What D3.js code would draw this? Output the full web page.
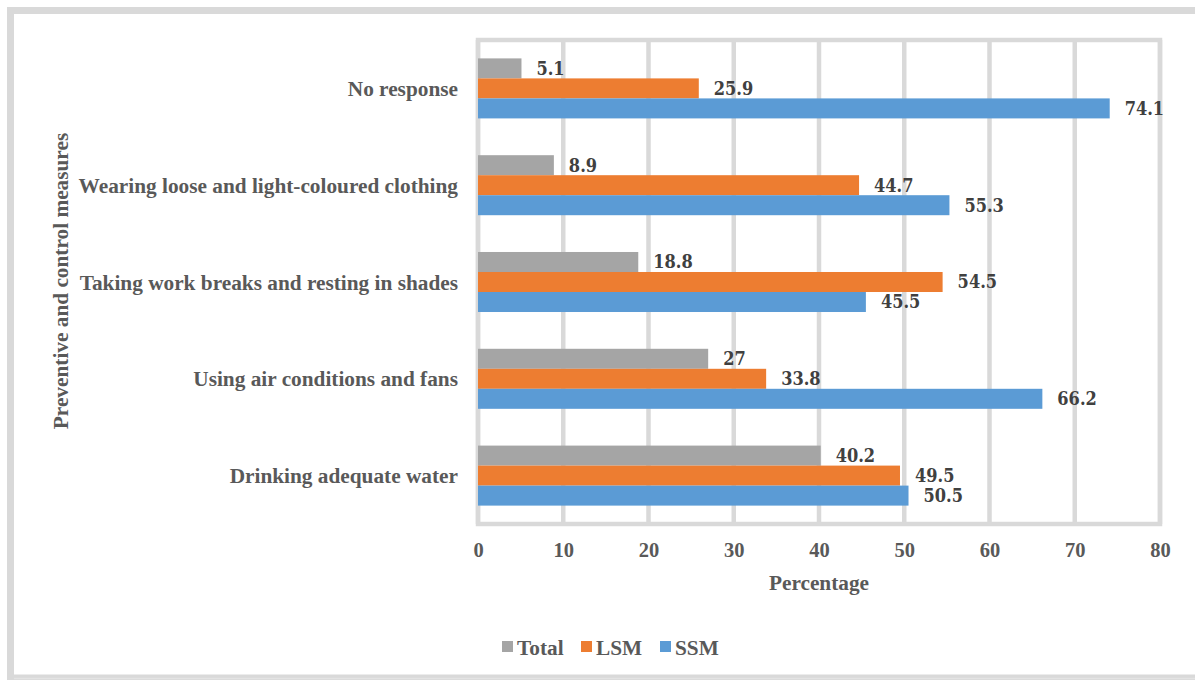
<!DOCTYPE html>
<html>
<head>
<meta charset="utf-8">
<script src="https://cdn.jsdelivr.net/npm/d3@7"></script>
<style>
  html, body { margin: 0; padding: 0; background: #ffffff; }
  svg { display: block; }
</style>
</head>
<body>
<svg id="chart" width="1195" height="680"></svg>
<script>
// Preventive and control measures, percentage of respondents by group
const categories = [
  "No response",
  "Wearing loose and light-coloured clothing",
  "Taking work breaks and resting in shades",
  "Using air conditions and fans",
  "Drinking adequate water"
];
const seriesNames = ["Total", "LSM", "SSM"];
const totalValues = [5.1, 8.9, 18.8, 27, 40.2];
const lsmValues   = [25.9, 44.7, 54.5, 33.8, 49.5];
const ssmValues   = [74.1, 55.3, 45.5, 66.2, 50.5];
const xTicks = [0, 10, 20, 30, 40, 50, 60, 70, 80];
const seriesColors = ["#a5a5a5", "#ed7d31", "#5b9bd5"];

const seriesValues = [totalValues, lsmValues, ssmValues];
const rows = categories.map((c, i) => ({
  category: c,
  values: seriesNames.map((s, j) => ({ series: s, value: seriesValues[j][i] }))
}));

const svg = d3.select("#chart");
const serif = "'Liberation Serif', 'Times New Roman', serif";
const labelGray = "#595959";
const gridGray = "#d9d9d9";

// outer chart frame
svg.append("rect")
  .attr("x", 10.5).attr("y", 10.5)
  .attr("width", 1195).attr("height", 667.5)
  .attr("fill", "#fff")
  .attr("stroke", gridGray).attr("stroke-width", 7);
svg.append("line")
  .attr("x1", 14).attr("x2", 1195).attr("y1", 678.5).attr("y2", 678.5)
  .attr("stroke", "#e3e3e3").attr("stroke-width", 1.5);

const plot = { left: 478, right: 1160, top: 40, bottom: 524 };

const x = d3.scaleLinear().domain([0, 80]).range([plot.left, plot.right]);
const y = d3.scaleBand().domain(categories).range([plot.top, plot.bottom])
  .paddingInner(0.38).paddingOuter(0.19);
const ySub = d3.scaleBand().domain(seriesNames).range([0, y.bandwidth()]);
const color = d3.scaleOrdinal().domain(seriesNames).range(seriesColors);

// grid lines
svg.append("g")
  .selectAll("line")
  .data(xTicks)
  .join("line")
  .attr("x1", d => x(d)).attr("x2", d => x(d))
  .attr("y1", plot.top).attr("y2", plot.bottom)
  .attr("stroke", gridGray).attr("stroke-width", 4.5);

// plot frame
svg.append("rect")
  .attr("x", plot.left).attr("y", plot.top)
  .attr("width", plot.right - plot.left).attr("height", plot.bottom - plot.top)
  .attr("fill", "none").attr("stroke", gridGray).attr("stroke-width", 4.5);

// bars
const groups = svg.append("g")
  .selectAll("g")
  .data(rows)
  .join("g")
  .attr("transform", d => `translate(0,${y(d.category)})`);

groups.selectAll("rect")
  .data(d => d.values)
  .join("rect")
  .attr("x", x(0))
  .attr("y", d => ySub(d.series))
  .attr("width", d => x(d.value) - x(0))
  .attr("height", ySub.bandwidth())
  .attr("fill", d => color(d.series));

// value labels
groups.selectAll("text")
  .data(d => d.values)
  .join("text")
  .attr("x", d => x(d.value) + 15)
  .attr("y", d => ySub(d.series) + ySub.bandwidth() / 2)
  .attr("dy", "0.36em")
  .attr("font-family", "'DejaVu Serif Condensed', 'DejaVu Serif', Cambria, serif")
  .attr("font-stretch", "condensed")
  .attr("font-weight", "bold")
  .attr("font-size", 18)
  .attr("fill", "#404040")
  .text(d => d.value);

// x axis
const xAxis = d3.axisBottom(x).tickValues(xTicks).tickSize(0).tickPadding(0);
const xg = svg.append("g")
  .attr("transform", `translate(0,${plot.bottom})`)
  .call(xAxis);
xg.select(".domain").remove();
xg.selectAll("text")
  .attr("y", 26)
  .attr("dy", "0.36em")
  .attr("font-family", serif)
  .attr("font-weight", "bold")
  .attr("font-size", 20.5)
  .attr("fill", labelGray);

// y axis (category labels)
const yAxis = d3.axisLeft(y).tickSize(0).tickPadding(0);
const yg = svg.append("g")
  .attr("transform", `translate(${plot.left - 20},0)`)
  .call(yAxis);
yg.select(".domain").remove();
yg.selectAll("text")
  .attr("dy", "0.36em")
  .attr("font-family", serif)
  .attr("font-weight", "bold")
  .attr("font-size", 21.3)
  .attr("fill", labelGray);

// axis titles
svg.append("text")
  .attr("x", (plot.left + plot.right) / 2)
  .attr("y", 582)
  .attr("dy", "0.36em")
  .attr("text-anchor", "middle")
  .attr("font-family", serif)
  .attr("font-weight", "bold")
  .attr("font-size", 21.3)
  .attr("fill", labelGray)
  .text("Percentage");

svg.append("text")
  .attr("transform", "translate(60,281) rotate(-90)")
  .attr("dy", "0.36em")
  .attr("text-anchor", "middle")
  .attr("font-family", serif)
  .attr("font-weight", "bold")
  .attr("font-size", 21.3)
  .attr("fill", labelGray)
  .text("Preventive and control measures");

// legend
const legendX = [502, 581, 660];
const legend = svg.append("g")
  .selectAll("g")
  .data(seriesNames)
  .join("g")
  .attr("transform", (d, i) => `translate(${legendX[i]},647)`);
legend.append("rect")
  .attr("x", 0).attr("y", -6)
  .attr("width", 11).attr("height", 11)
  .attr("fill", d => color(d));
legend.append("text")
  .attr("x", 15)
  .attr("y", 0)
  .attr("dy", "0.36em")
  .attr("font-family", serif)
  .attr("font-weight", "bold")
  .attr("font-size", 21.3)
  .attr("fill", labelGray)
  .text(d => d);
</script>
</body>
</html>
